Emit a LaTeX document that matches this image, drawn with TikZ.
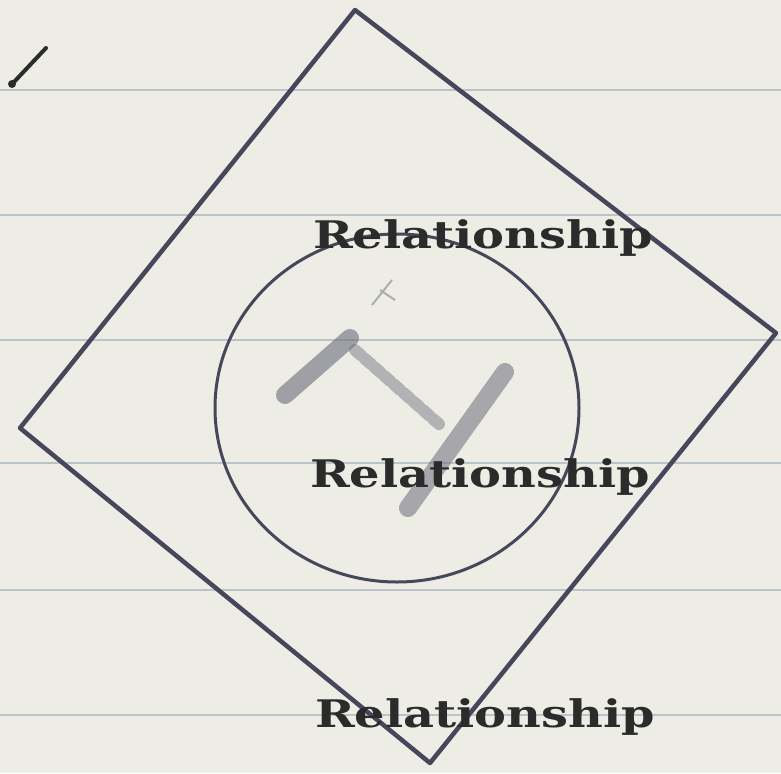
\documentclass[tikz,border=0pt]{standalone}
\usepackage{fontspec}
\setmainfont{DejaVu Serif}
\usepackage{tikz}
\usetikzlibrary{positioning, calc, shapes.geometric}
\definecolor{PaperWhite}{rgb}{0.93, 0.93, 0.90}
\definecolor{RuleBlue}{rgb}{0.72, 0.77, 0.79}
\definecolor{PencilGray}{rgb}{0.28, 0.28, 0.36}
\definecolor{InkBlack}{rgb}{0.17, 0.17, 0.17}

\begin{document}
\begin{tikzpicture}[x=1pt, y=-1pt, line join=round,
        label/.style={font=\fontsize{38}{38}\selectfont\bfseries, text=InkBlack, inner sep=0pt, anchor=base west}]
        % Paper
        \fill[PaperWhite] (0,0) rectangle (781,773);
        \useasboundingbox (0,0) rectangle (781,773);
        \foreach \y in {90, 215, 340, 463, 590, 715} {
            \draw[RuleBlue, line width=1.5pt] (0,\y) -- (781,\y);
        }
        % Square
        \coordinate (top) at (355,10);
        \coordinate (right) at (776,333);
        \coordinate (bottom) at (430,763);
        \coordinate (left) at (20,428);
        \draw[PencilGray, line width=4.5pt] (top) -- (right) -- (bottom) -- (left) -- cycle;
        % Circle
        \node[draw=PencilGray, line width=3pt, ellipse, minimum width=364pt, minimum height=348pt, inner sep=0pt] (ring) at (397,408) {};
        % Erased marks
        \draw[PencilGray!80, opacity=0.6, line width=18pt, line cap=round] (285,395) -- (350,338);
        \draw[PencilGray!80, opacity=0.45, line width=12pt, line cap=round, dash pattern=on 8pt off 5pt] (355,350) -- (440,425);
        \draw[PencilGray!80, opacity=0.55, line width=18pt, line cap=round] (505,372) -- (408,508);
        \draw[PencilGray!80, opacity=0.5, line width=2pt] (372,305) -- (392,280) (380,290) -- (395,300);
        \draw[InkBlack, line width=4pt, line cap=round] (14,82) -- (46,48);
        \fill[InkBlack] (12,84) circle (4pt);
        % Labels
        \node[label] (rel1) at (313,248) {\scalebox{1.26}[1]{Relationship}};
        \node[label] (rel2) at (310,487) {\scalebox{1.26}[1]{Relationship}};
        \node[label] (rel3) at (315,727) {\scalebox{1.26}[1]{Relationship}};
\end{tikzpicture}
\end{document}
